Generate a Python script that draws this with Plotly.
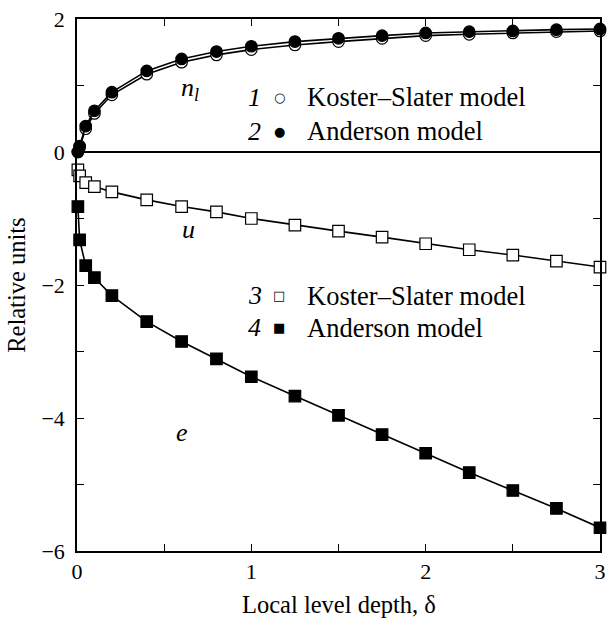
import plotly.graph_objects as go

# ---- data ----
delta = [0.005, 0.015, 0.05, 0.1, 0.2, 0.4, 0.6, 0.8, 1.0, 1.25, 1.5, 1.75, 2.0, 2.25, 2.5, 2.75, 3.0]
n_ks = [0.0, 0.07, 0.35, 0.58, 0.86, 1.17, 1.35, 1.46, 1.54, 1.61, 1.66, 1.71, 1.75, 1.77, 1.79, 1.81, 1.82]
n_and = [0.0, 0.09, 0.39, 0.62, 0.90, 1.22, 1.40, 1.51, 1.59, 1.66, 1.71, 1.75, 1.79, 1.81, 1.82, 1.84, 1.85]
u_ks = [-0.27, -0.36, -0.46, -0.52, -0.60, -0.72, -0.82, -0.90, -1.00, -1.10, -1.19, -1.28, -1.38, -1.47, -1.55, -1.64, -1.73]
e_and = [-0.82, -1.32, -1.71, -1.89, -2.16, -2.55, -2.85, -3.11, -3.38, -3.67, -3.96, -4.25, -4.53, -4.82, -5.09, -5.36, -5.65]

x_ticks = [0, 1, 2, 3]
y_ticks = [-6, -4, -2, 0, 2]
y_tick_text = ["−6", "−4", "−2", "0", "2"]

FONT = "Liberation Serif"

fig = go.Figure()

def series(y, symbol, fill):
    fig.add_trace(go.Scatter(
        x=delta, y=y, mode="lines+markers", cliponaxis=False,
        line=dict(color="black", width=1.6),
        marker=dict(symbol=symbol, size=11.5, color=fill,
                    line=dict(color="black", width=1.2)),
        showlegend=False))

series(n_ks, "circle", "white")
series(n_and, "circle", "black")
series(u_ks, "square", "white")
series(e_and, "square", "black")

axis_common = dict(
    showline=True, linecolor="black", linewidth=1.6, mirror="ticks",
    ticks="inside", ticklen=7, tickwidth=1.3, tickcolor="black",
    showgrid=False, tickfont=dict(family=FONT, size=22, color="black"),
)

fig.update_xaxes(range=[0, 3], tickvals=x_ticks, zeroline=False,
                 minor=dict(dtick=0.5, ticks="inside", ticklen=7, tickwidth=1.3, tickcolor="black"),
                 ticklabelstandoff=0, **axis_common)
fig.update_yaxes(range=[-6, 2], tickvals=y_ticks, ticktext=y_tick_text,
                 zeroline=True, zerolinecolor="black", zerolinewidth=1.6,
                 minor=dict(dtick=1, ticks="inside", ticklen=7, tickwidth=1.3, tickcolor="black"),
                 ticklabelstandoff=6, **axis_common)

ann = []
# axis titles
ann.append(dict(text="Local level depth, δ", xref="paper", yref="paper", x=0.5, y=-0.072,
                xanchor="center", yanchor="top", showarrow=False,
                font=dict(family=FONT, size=24.5, color="black")))
ann.append(dict(text="Relative units", xref="paper", yref="paper", x=-0.117, y=0.5,
                xanchor="center", yanchor="middle", textangle=-90, showarrow=False,
                font=dict(family=FONT, size=24.5, color="black")))
# curve labels
ann.append(dict(text="<i>n<sub>l</sub></i>", x=0.65, y=0.95, xref="x", yref="y", showarrow=False,
                font=dict(family=FONT, size=26, color="black")))
ann.append(dict(text="<i>u</i>", x=0.64, y=-1.16, xref="x", yref="y", showarrow=False,
                font=dict(family=FONT, size=26, color="black")))
ann.append(dict(text="<i>e</i>", x=0.60, y=-4.22, xref="x", yref="y", showarrow=False,
                font=dict(family=FONT, size=26, color="black")))

legend_rows = [
    ("1", "○", "Koster–Slater model", 0.82),
    ("2", "●", "Anderson model", 0.31),
    ("3", "□", "Koster–Slater model", -2.16),
    ("4", "■", "Anderson model", -2.64),
]
for num, sym, label, yy in legend_rows:
    ann.append(dict(text=f"<i>{num}</i>", x=1.02, y=yy, xref="x", yref="y", showarrow=False,
                    xanchor="center", font=dict(family=FONT, size=26, color="black")))
    ann.append(dict(text=sym, x=1.16, y=yy, xref="x", yref="y", showarrow=False,
                    xanchor="center", font=dict(family="DejaVu Sans", size=13, color="black")))
    ann.append(dict(text=label, x=1.31, y=yy, xref="x", yref="y", showarrow=False,
                    xanchor="left", font=dict(family=FONT, size=26.5, color="black")))

fig.update_layout(
    width=613, height=624,
    margin=dict(l=77, r=7, t=19, b=73),
    paper_bgcolor="white", plot_bgcolor="white",
    annotations=ann,
    font=dict(family=FONT, color="black"),
)

fig.write_html("out.html")
